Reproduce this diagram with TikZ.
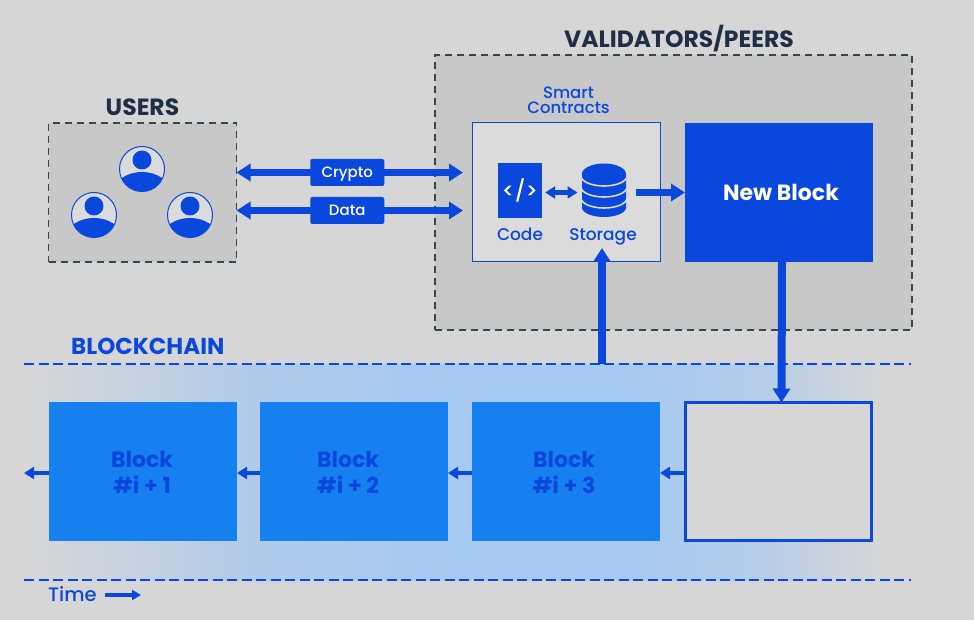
\documentclass[tikz,border=0pt]{standalone}
\usepackage{fontspec}
\setmainfont{Poppins}
\newfontface\mediumfont{Poppins Medium}
\usetikzlibrary{positioning,arrows.meta}

\definecolor{paper}{HTML}{D6D6D6}
\definecolor{panel}{HTML}{C8C8C8}
\definecolor{inner}{HTML}{DBDBDB}
\definecolor{deep}{HTML}{0A47DC}
\definecolor{sky}{HTML}{1780F0}
\definecolor{ink}{HTML}{1F2F45}
\definecolor{dashink}{HTML}{3A4450}
\definecolor{glowa}{HTML}{C6D2E0}
\definecolor{glowb}{HTML}{B0CBEA}
\definecolor{glowc}{HTML}{A6CAF2}
\definecolor{glowd}{HTML}{B4CDE9}
\pgfdeclarehorizontalshading{chainglow}{100bp}{color(0bp)=(paper); color(25bp)=(paper); color(30.8bp)=(glowa); color(37.8bp)=(glowb); color(50.6bp)=(glowc); color(59.3bp)=(glowc); color(67.4bp)=(glowd); color(74.4bp)=(paper); color(100bp)=(paper)}

\tikzset{
  box/.style={rectangle, inner sep=0pt, outer sep=0pt, minimum width=188pt, minimum height=139pt},
  dashbox/.style={box, draw=dashink, fill=panel, line width=1.5pt, dash pattern=on 7pt off 5pt},
  chainblock/.style={box, fill=sky},
  blocktext/.style={inner sep=0pt, text=deep, align=center, font=\fontsize{22}{26}\selectfont\bfseries},
  title/.style={inner sep=0pt, text depth=0pt, font=\fontsize{23.5}{24}\selectfont\bfseries},
  caption/.style={inner sep=0pt, text=deep, font=\fontsize{17}{15}\mediumfont, align=center},
  tag/.style={rectangle, rounded corners=2pt, fill=deep, text=white, inner sep=0pt, minimum width=74pt, minimum height=27pt, text height=10.5pt, text depth=0pt, font=\fontsize{15}{15}\mediumfont},
  twoway/.style={draw=deep, line width=6.5pt, {Triangle[length=14pt,width=17pt]}-{Triangle[length=14pt,width=17pt]}},
  fatarrow/.style={draw=deep, line width=8pt, -{Triangle[length=14pt,width=17pt]}},
  linkarrow/.style={draw=deep, line width=3.5pt, -{Triangle[length=10pt,width=12pt]}},
  timeline/.style={draw=deep, line width=1.2pt, dash pattern=on 10pt off 4.5pt},
  usericon/.style={circle, draw=deep, fill=inner, line width=1pt, inner sep=0pt, outer sep=0pt, minimum size=45pt,
    path picture={
      \fill[deep] (path picture bounding box.center) ++(0,-9) circle [radius=9.5];
      \fill[deep] (path picture bounding box.center) ++(0,23) ellipse [x radius=28, y radius=20];
    }},
  dbicon/.style={rectangle, inner sep=0pt, outer sep=0pt, minimum width=45pt, minimum height=54pt,
    path picture={
      \fill[deep] (-22,-15.5) -- (22,-15.5) -- (22,17) arc [start angle=0, end angle=180, x radius=22, y radius=9.5] -- cycle;
      \fill[deep] (0,-16.5) ellipse [x radius=22, y radius=10.5];
      \foreach \layer in {-14.5,-3.5,7.5}
        \draw[inner, line width=1.6pt] (-23,\layer) arc [start angle=180, end angle=0, x radius=23, y radius=10];
    }},
}

\begin{document}
\begin{tikzpicture}[x=1pt, y=-1pt]
  \fill[paper] (0,0) rectangle (974,620);
  \useasboundingbox (0,0) rectangle (974,620);
  \shade[shading=chainglow] (30,364) rectangle (890,580);

  % users side
  \node [dashbox] (users) at (142.5,192.5) {};
  \node [title, text=ink, above=7pt of users] (userstitle) {USERS};
  \node [usericon] (usera) at (142,169) {};
  \node [usericon] (userb) at (94,215) {};
  \node [usericon] (userc) at (190,215) {};

  % validators
  \node [dashbox, minimum width=477pt, minimum height=275pt] (peers) at (673.5,192.5) {};
  \node [title, text=ink, above=7.5pt of peers, xshift=5.5pt] (peerstitle) {VALIDATORS/PEERS};
  \node [box, draw=deep, fill=inner, line width=1pt] (contracts) at (566,192.5) {};
  \node [caption, above=9pt of contracts, xshift=2.5pt, font=\fontsize{16.5}{15}\mediumfont] (contractstitle) {Smart\\Contracts};
  \node [box, fill=deep, text=white, right=25pt of contracts, font=\fontsize{22}{24}\selectfont\bfseries] (newblock) {\hspace*{4pt}New Block};
  \node [rectangle, fill=deep, text=white, inner sep=0pt, minimum width=44pt, minimum height=55pt, font=\fontsize{21}{22}\mediumfont] (code) at (520,190.5) {</>};
  \node [dbicon] (storage) at (604,190.5) {};
  \node [caption, anchor=base] (codelabel) at (520,240.5) {Code};
  \node [caption, anchor=base] (storagelabel) at (603,240.5) {Storage};

  % chain
  \node [title, text=deep, anchor=base west, font=\fontsize{23}{24}\selectfont\bfseries] (chaintitle) at (71,354.5) {BLOCKCHAIN};
  \coordinate (topl) at (24,364);
  \coordinate (topr) at (911,364);
  \coordinate (botl) at (24,580);
  \coordinate (botr) at (911,580);
  \draw [timeline] (topl) -- (topr);
  \draw [timeline] (botl) -- (botr);
  \node [chainblock] (blocka) at (143,471.5) {};
  \node [blocktext] (blockatext) at (142,472.5) {Block\\\#i + 1};
  \node [chainblock, right=23pt of blocka] (blockb) {};
  \node [blocktext] (blockbtext) at (348,472.5) {Block\\\#i + 2};
  \node [chainblock, right=24pt of blockb] (blockc) {};
  \node [blocktext] (blockctext) at (564,472.5) {Block\\\#i + 3};
  \node [box, draw=deep, line width=3pt, fill=paper, minimum width=186pt, minimum height=138pt, right=25.5pt of blockc] (slot) {};

  % time
  \node [caption, anchor=base west, font=\fontsize{19.5}{20}\mediumfont] (timelabel) at (48,601.5) {Time};
  \coordinate (timestart) at (105,595);
  \coordinate (timeend) at (141,595);

  % tags and arrows
  \draw [twoway] (users.east |- 0,172.5) -- node [tag, pos=.489] (crypto) {Crypto} ([xshift=-9pt]contracts.west |- 0,172.5);
  \draw [twoway] (users.east |- 0,210.5) -- node [tag, pos=.489] (data) {Data} ([xshift=-9pt]contracts.west |- 0,210.5);
  \draw [draw=deep, line width=4.5pt, {Triangle[length=10pt,width=12pt]}-{Triangle[length=10pt,width=12pt]}, shorten <=3pt, shorten >=4pt] (code.east |- 0,192.5) -- (storage.west |- 0,192.5);
  \draw [fatarrow, line width=7pt] (storage.east |- 0,192.5) ++(9,0) -- (newblock.west |- 0,192.5);
  \coordinate (feed) at (602,364);
  \coordinate (feedtip) at (602,248);
  \draw [fatarrow] (feed) -- (feedtip);
  \draw [fatarrow] ([xshift=3pt]newblock.south) -- ([xshift=3pt]slot.north);
  \coordinate (blockout) at (24,473);
  \draw [linkarrow] ([yshift=-1.5pt]slot.west) -- ([yshift=-1.5pt]blockc.east);
  \draw [linkarrow] ([yshift=-1.5pt]blockc.west) -- ([yshift=-1.5pt]blockb.east);
  \draw [linkarrow] ([yshift=-1.5pt]blockb.west) -- ([yshift=-1.5pt]blocka.east);
  \draw [linkarrow] ([yshift=-1.5pt]blocka.west) -- (blockout);
  \draw [draw=deep, line width=3.5pt, -{Triangle[length=9pt,width=10pt]}] (timestart) -- (timeend);
\end{tikzpicture}
\end{document}
